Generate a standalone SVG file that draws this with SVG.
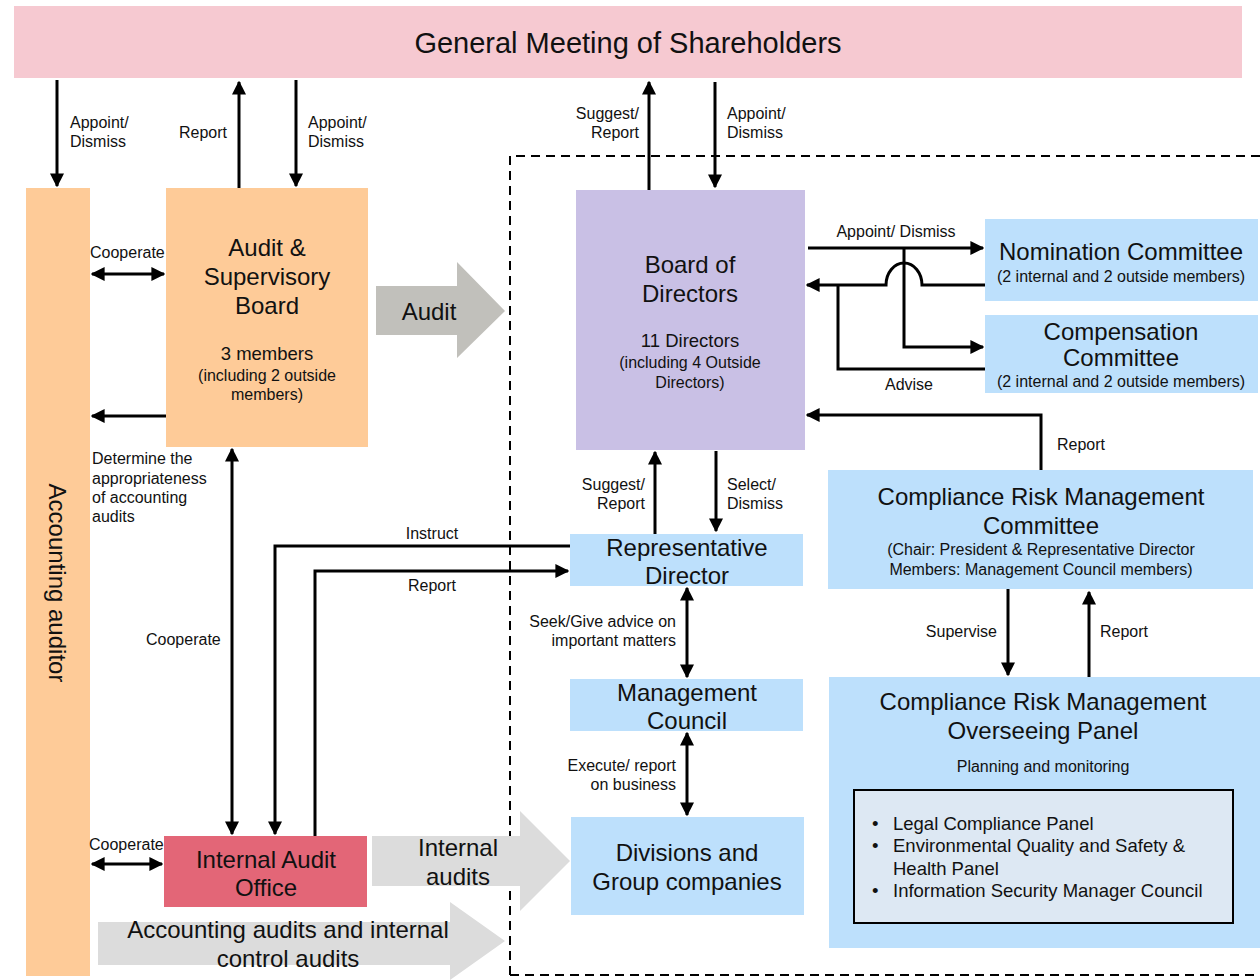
<svg xmlns="http://www.w3.org/2000/svg" width="1260" height="980" viewBox="0 0 1260 980">
<style>
text{font-family:"Liberation Sans",Arial,sans-serif;fill:#111}
.big{font-size:24px}
.mid{font-size:18.5px}
.sm{font-size:16px}
.c{text-anchor:middle}
.r{text-anchor:end}
.ln{fill:none;stroke:#000;stroke-width:3}
.peach{fill:#fecb98}
.blue{fill:#bde0fc}
</style>
<defs>
<marker id="ah" viewBox="0 0 10 10" refX="9" refY="5" markerWidth="14" markerHeight="14" markerUnits="userSpaceOnUse" orient="auto-start-reverse"><path d="M0,0 L10,5 L0,10 z" fill="#000"/></marker>
</defs>
<rect width="1260" height="980" fill="#fff"/>

<g id="scope">
<path d="M510,975 V156 H1260 M510,975 H1260" fill="none" stroke="#000" stroke-width="2" stroke-dasharray="9,6"/>
</g>

<g id="gms">
<rect x="14" y="6" width="1228" height="72" fill="#f6c9d1"/>
<text x="628" y="53" class="c" style="font-size:29px">General Meeting of Shareholders</text>
</g>

<g id="auditor">
<rect x="26" y="188" width="64" height="788" class="peach"/>
<text x="57" y="583" class="big c" transform="rotate(90 57 583)" dy="8">Accounting auditor</text>
</g>

<g id="asb">
<rect x="166" y="188" width="202" height="259" class="peach"/>
<text x="267" y="256" class="big c">Audit &amp;</text>
<text x="267" y="285" class="big c">Supervisory</text>
<text x="267" y="314" class="big c">Board</text>
<text x="267" y="360" class="mid c">3 members</text>
<text x="267" y="381" class="sm c">(including 2 outside</text>
<text x="267" y="400" class="sm c">members)</text>
</g>

<g id="iao">
<rect x="164" y="836" width="203" height="71" fill="#e36677"/>
<text x="266" y="868" class="big c">Internal Audit</text>
<text x="266" y="896" class="big c">Office</text>
</g>

<g id="audit-arrow">
<path d="M376,286 H457 V262 L505,311 L457,358 V335 H376 Z" fill="#c1c0bb"/>
<text x="429" y="320" class="big c">Audit</text>
</g>
<g id="internal-audits-arrow">
<path d="M372,836 H520 V811 L570,861 L520,911 V886 H372 Z" fill="#dcdcdc"/>
<text x="458" y="856" class="big c">Internal</text>
<text x="458" y="885" class="big c">audits</text>
</g>
<g id="acct-audits-arrow">
<path d="M98,922 H450 V902 L505,941 L450,980 V965 H98 Z" fill="#dcdcdc"/>
<text x="288" y="938" class="big c">Accounting audits and internal</text>
<text x="288" y="967" class="big c">control audits</text>
</g>

<g id="bod">
<rect x="576" y="190" width="229" height="260" fill="#c9c0e5"/>
<text x="690" y="273" class="big c">Board of</text>
<text x="690" y="302" class="big c">Directors</text>
<text x="690" y="347" class="mid c">11 Directors</text>
<text x="690" y="368" class="sm c">(including 4 Outside</text>
<text x="690" y="388" class="sm c">Directors)</text>
</g>

<g id="nomination">
<rect x="985" y="219" width="273" height="82" class="blue"/>
<text x="1121" y="260" class="big c">Nomination Committee</text>
<text x="1121" y="282" class="sm c">(2 internal and 2 outside members)</text>
</g>
<g id="compensation">
<rect x="985" y="315" width="273" height="78" class="blue"/>
<text x="1121" y="340" class="big c">Compensation</text>
<text x="1121" y="366" class="big c">Committee</text>
<text x="1121" y="387" class="sm c">(2 internal and 2 outside members)</text>
</g>

<g id="rep">
<rect x="570" y="534" width="233" height="52" class="blue"/>
<text x="687" y="556" class="big c">Representative</text>
<text x="687" y="584" class="big c">Director</text>
</g>
<g id="mgmt">
<rect x="570" y="679" width="233" height="52" class="blue"/>
<text x="687" y="701" class="big c">Management</text>
<text x="687" y="729" class="big c">Council</text>
</g>
<g id="divisions">
<rect x="571" y="817" width="233" height="98" class="blue"/>
<text x="687" y="861" class="big c">Divisions and</text>
<text x="687" y="890" class="big c">Group companies</text>
</g>

<g id="crmc">
<rect x="828" y="470" width="425" height="119" class="blue"/>
<text x="1041" y="505" class="big c">Compliance Risk Management</text>
<text x="1041" y="534" class="big c">Committee</text>
<text x="1041" y="555" class="sm c">(Chair: President &amp; Representative Director</text>
<text x="1041" y="575" class="sm c">Members: Management Council members)</text>
</g>
<g id="panel">
<rect x="829" y="677" width="431" height="271" class="blue"/>
<text x="1043" y="710" class="big c">Compliance Risk Management</text>
<text x="1043" y="739" class="big c">Overseeing Panel</text>
<text x="1043" y="772" class="sm c">Planning and monitoring</text>
<rect x="854" y="790" width="379" height="133" fill="#dde8f3" stroke="#000" stroke-width="2"/>
<text x="872" y="830" class="mid">•</text>
<text x="893" y="830" class="mid">Legal Compliance Panel</text>
<text x="872" y="852" class="mid">•</text>
<text x="893" y="852" class="mid">Environmental Quality and Safety &amp;</text>
<text x="893" y="875" class="mid">Health Panel</text>
<text x="872" y="897" class="mid">•</text>
<text x="893" y="897" class="mid">Information Security Manager Council</text>
</g>

<g id="connectors">
<path class="ln" d="M57,80 V186" marker-end="url(#ah)"/>
<path class="ln" d="M239,188 V82" marker-end="url(#ah)"/>
<path class="ln" d="M296,80 V186" marker-end="url(#ah)"/>
<path class="ln" d="M92,274 H164" marker-start="url(#ah)" marker-end="url(#ah)"/>
<path class="ln" d="M166,416 H92" marker-end="url(#ah)"/>
<path class="ln" d="M232,449 V834" marker-start="url(#ah)" marker-end="url(#ah)"/>
<path class="ln" d="M92,864 H162" marker-start="url(#ah)" marker-end="url(#ah)"/>
<path class="ln" d="M570,546 H275 V834" marker-end="url(#ah)"/>
<path class="ln" d="M315,836 V571 H568" marker-end="url(#ah)"/>
<path class="ln" d="M649,190 V82" marker-end="url(#ah)"/>
<path class="ln" d="M715,82 V187" marker-end="url(#ah)"/>
<path class="ln" d="M808,248 H983" marker-end="url(#ah)"/>
<path class="ln" d="M904,248 V347 H983" marker-end="url(#ah)"/>
<path class="ln" d="M985,285 H922 A18,22 0 0 0 886,285 H807" marker-end="url(#ah)"/>
<path class="ln" d="M985,369 H838 V285"/>
<path class="ln" d="M1041,470 V415 H807" marker-end="url(#ah)"/>
<path class="ln" d="M655,534 V452" marker-end="url(#ah)"/>
<path class="ln" d="M716,451 V531" marker-end="url(#ah)"/>
<path class="ln" d="M687,588 V677" marker-start="url(#ah)" marker-end="url(#ah)"/>
<path class="ln" d="M687,733 V815" marker-start="url(#ah)" marker-end="url(#ah)"/>
<path class="ln" d="M1008,589 V675" marker-end="url(#ah)"/>
<path class="ln" d="M1089,677 V592" marker-end="url(#ah)"/>
</g>

<g id="labels">
<text x="70" y="128" class="sm">Appoint/</text>
<text x="70" y="147" class="sm">Dismiss</text>
<text x="179" y="138" class="sm">Report</text>
<text x="308" y="128" class="sm">Appoint/</text>
<text x="308" y="147" class="sm">Dismiss</text>
<text x="90" y="258" class="sm">Cooperate</text>
<text x="92" y="464" class="sm">Determine the</text>
<text x="92" y="484" class="sm">appropriateness</text>
<text x="92" y="503" class="sm">of accounting</text>
<text x="92" y="522" class="sm">audits</text>
<text x="146" y="645" class="sm">Cooperate</text>
<text x="89" y="850" class="sm">Cooperate</text>
<text x="432" y="539" class="sm c">Instruct</text>
<text x="432" y="591" class="sm c">Report</text>
<text x="639" y="119" class="sm r">Suggest/</text>
<text x="639" y="138" class="sm r">Report</text>
<text x="727" y="119" class="sm">Appoint/</text>
<text x="727" y="138" class="sm">Dismiss</text>
<text x="896" y="237" class="sm c">Appoint/ Dismiss</text>
<text x="909" y="390" class="sm c">Advise</text>
<text x="1057" y="450" class="sm">Report</text>
<text x="645" y="490" class="sm r">Suggest/</text>
<text x="645" y="509" class="sm r">Report</text>
<text x="727" y="490" class="sm">Select/</text>
<text x="727" y="509" class="sm">Dismiss</text>
<text x="676" y="627" class="sm r">Seek/Give advice on</text>
<text x="676" y="646" class="sm r">important matters</text>
<text x="676" y="771" class="sm r">Execute/ report</text>
<text x="676" y="790" class="sm r">on business</text>
<text x="997" y="637" class="sm r">Supervise</text>
<text x="1100" y="637" class="sm">Report</text>
</g>
</svg>
